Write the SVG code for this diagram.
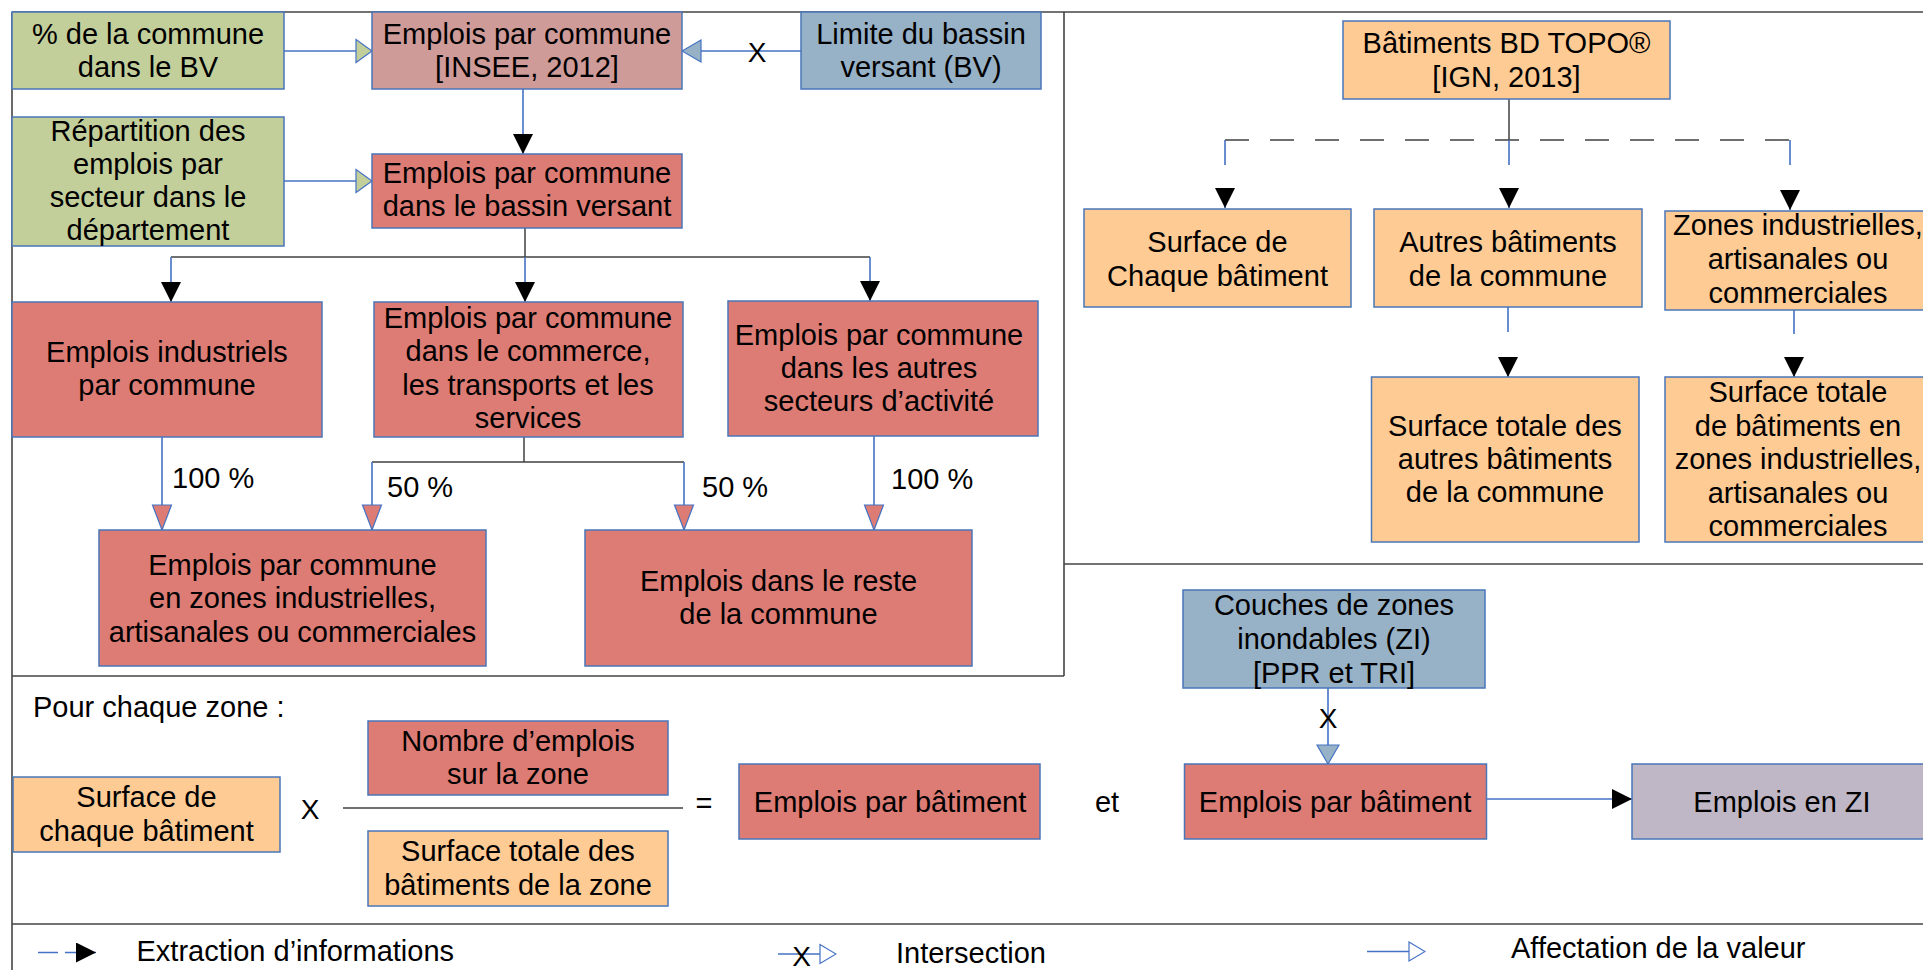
<svg xmlns="http://www.w3.org/2000/svg" width="1923" height="970" viewBox="0 0 1923 970">
<style>
  .t { font-family: "Liberation Sans", Arial, sans-serif; font-size: 29px; fill: #000; text-anchor: middle; }
  .ts { font-family: "Liberation Sans", Arial, sans-serif; font-size: 29px; fill: #000; text-anchor: start; }
  .box { stroke: #4a76b8; stroke-width: 1.5; }
  .green { fill: #c3cf9b; }
  .pink { fill: #cf9b99; }
  .red { fill: #dc7c75; }
  .bgrey { fill: #97b1c6; }
  .orange { fill: #fecb95; }
  .lav { fill: #bfb7c5; }
  .frame { stroke: #454545; stroke-width: 1.6; fill: none; }
  .cb { stroke: #4472c4; stroke-width: 1.6; fill: none; }
  .cd { stroke: #404040; stroke-width: 1.5; fill: none; }
</style>
<defs>
  <marker id="m-black" markerUnits="userSpaceOnUse" markerWidth="20" markerHeight="20" viewBox="0 0 20 20" refX="20" refY="10" orient="auto">
    <path d="M0,0 L20,10 L0,20 z" fill="#000"/>
  </marker>
  <marker id="m-red" markerUnits="userSpaceOnUse" markerWidth="27" markerHeight="22" viewBox="0 0 27 22" refX="26" refY="11" orient="auto">
    <path d="M1,1.5 L26,11 L1,20.5 z" fill="#dc7c75" stroke="#4472c4" stroke-width="1.2"/>
  </marker>
  <marker id="m-green" markerUnits="userSpaceOnUse" markerWidth="18" markerHeight="26" viewBox="0 0 18 26" refX="17" refY="13" orient="auto">
    <path d="M1,1.5 L17,13 L1,24.5 z" fill="#c3cf9b" stroke="#4472c4" stroke-width="1.2"/>
  </marker>
  <marker id="m-bgrey" markerUnits="userSpaceOnUse" markerWidth="21" markerHeight="25" viewBox="0 0 21 25" refX="20" refY="12.5" orient="auto">
    <path d="M1,1.5 L20,12.5 L1,23.5 z" fill="#97b1c6" stroke="#4472c4" stroke-width="1.2"/>
  </marker>
  <marker id="m-white" markerUnits="userSpaceOnUse" markerWidth="18" markerHeight="22" viewBox="0 0 18 22" refX="1" refY="11" orient="auto">
    <path d="M1,1.5 L17,11 L1,20.5 z" fill="#fff" stroke="#4472c4" stroke-width="1.2"/>
  </marker>
</defs>

<g id="frame">
  <line class="frame" x1="12" y1="12" x2="1923" y2="12"/>
  <line class="frame" x1="12" y1="12" x2="12" y2="970"/>
  <line class="frame" x1="1064" y1="12" x2="1064" y2="676"/>
  <line class="frame" x1="12" y1="676" x2="1064" y2="676"/>
  <line class="frame" x1="1064" y1="564" x2="1923" y2="564"/>
  <line class="frame" x1="12" y1="924" x2="1923" y2="924"/>
</g>

<g id="connectors">
  <line class="cb" x1="284" y1="51" x2="372" y2="51" marker-end="url(#m-green)"/>
  <line class="cb" x1="801" y1="51" x2="682" y2="51" marker-end="url(#m-bgrey)"/>
  <text class="t" x="757" y="62" style="font-size:28px">X</text>
  <line class="cb" x1="523" y1="89" x2="523" y2="154" marker-end="url(#m-black)"/>
  <line class="cb" x1="284" y1="181" x2="372" y2="181" marker-end="url(#m-green)"/>
  <line class="cd" x1="525" y1="228" x2="525" y2="257"/>
  <line class="cd" x1="171" y1="257" x2="870" y2="257"/>
  <line class="cb" x1="171" y1="257" x2="171" y2="302" marker-end="url(#m-black)"/>
  <line class="cb" x1="525" y1="257" x2="525" y2="302" marker-end="url(#m-black)"/>
  <line class="cb" x1="870" y1="257" x2="870" y2="301" marker-end="url(#m-black)"/>
  <line class="cb" x1="162" y1="437" x2="162" y2="530" marker-end="url(#m-red)"/>
  <text class="ts" x="172" y="488">100 %</text>
  <line class="cd" x1="524" y1="437" x2="524" y2="462"/>
  <line class="cd" x1="372" y1="462" x2="684" y2="462"/>
  <line class="cb" x1="372" y1="462" x2="372" y2="530" marker-end="url(#m-red)"/>
  <line class="cb" x1="684" y1="462" x2="684" y2="530" marker-end="url(#m-red)"/>
  <text class="ts" x="387" y="497">50 %</text>
  <text class="ts" x="702" y="497">50 %</text>
  <line class="cb" x1="874" y1="436" x2="874" y2="530" marker-end="url(#m-red)"/>
  <text class="ts" x="891" y="489">100 %</text>
  <line class="cd" x1="1509" y1="99" x2="1509" y2="140"/>
  <line class="cd" x1="1225" y1="140" x2="1790" y2="140" stroke-dasharray="24 21"/>
  <path class="cb" d="M1225,140 V208" stroke-dasharray="25 25" marker-end="url(#m-black)"/>
  <path class="cb" d="M1509,140 V208" stroke-dasharray="25 25" marker-end="url(#m-black)"/>
  <path class="cb" d="M1790,140 V210" stroke-dasharray="25 25" marker-end="url(#m-black)"/>
  <path class="cb" d="M1508,307 V377" stroke-dasharray="25 25" marker-end="url(#m-black)"/>
  <path class="cb" d="M1794,310 V377" stroke-dasharray="24 24" marker-end="url(#m-black)"/>
  <line class="cb" x1="1328" y1="688" x2="1328" y2="764" marker-end="url(#m-bgrey)"/>
  <text class="t" x="1328" y="728" style="font-size:28px">X</text>
  <line class="cb" x1="1486" y1="799" x2="1632" y2="799" stroke-width="2.5" marker-end="url(#m-black)"/>
  <line class="cd" x1="343" y1="808" x2="683" y2="808"/>
</g>

<g id="n1"><rect class="box green" x="12" y="12" width="272" height="77"/><text class="t" x="148" y="44">% de la commune</text><text class="t" x="148" y="77">dans le BV</text></g>
<g id="n2"><rect class="box pink" x="372" y="12" width="310" height="77"/><text class="t" x="527" y="44">Emplois par commune</text><text class="t" x="527" y="77">[INSEE, 2012]</text></g>
<g id="n3"><rect class="box bgrey" x="801" y="12" width="240" height="77"/><text class="t" x="921" y="44">Limite du bassin</text><text class="t" x="921" y="77">versant (BV)</text></g>
<g id="n4"><rect class="box green" x="12" y="117" width="272" height="129"/><text class="t" x="148" y="140.5">Répartition des</text><text class="t" x="148" y="173.8">emplois par</text><text class="t" x="148" y="207.1">secteur dans le</text><text class="t" x="148" y="240.4">département</text></g>
<g id="n5"><rect class="box red" x="372" y="154" width="310" height="74"/><text class="t" x="527" y="183">Emplois par commune</text><text class="t" x="527" y="216">dans le bassin versant</text></g>
<g id="n6"><rect class="box red" x="12" y="302" width="310" height="135"/><text class="t" x="167" y="362">Emplois industriels</text><text class="t" x="167" y="395">par commune</text></g>
<g id="n7"><rect class="box red" x="374" y="302" width="309" height="135"/><text class="t" x="528" y="328">Emplois par commune</text><text class="t" x="528" y="361.3">dans le commerce,</text><text class="t" x="528" y="394.6">les transports et les</text><text class="t" x="528" y="428">services</text></g>
<g id="n8"><rect class="box red" x="728" y="301" width="310" height="135"/><text class="t" x="879" y="345">Emplois par commune</text><text class="t" x="879" y="378">dans les autres</text><text class="t" x="879" y="411">secteurs d’activité</text></g>
<g id="n9"><rect class="box red" x="99" y="530" width="387" height="136"/><text class="t" x="292.5" y="575">Emplois par commune</text><text class="t" x="292.5" y="608">en zones industrielles,</text><text class="t" x="292.5" y="641.5">artisanales ou commerciales</text></g>
<g id="n10"><rect class="box red" x="585" y="530" width="387" height="136"/><text class="t" x="778.5" y="590.5">Emplois dans le reste</text><text class="t" x="778.5" y="624">de la commune</text></g>
<g id="n11"><rect class="box orange" x="1343" y="21" width="327" height="78"/><text class="t" x="1506.5" y="53">Bâtiments BD TOPO®</text><text class="t" x="1506.5" y="86.5">[IGN, 2013]</text></g>
<g id="n12"><rect class="box orange" x="1084" y="209" width="267" height="98"/><text class="t" x="1217.5" y="252">Surface de</text><text class="t" x="1217.5" y="286">Chaque bâtiment</text></g>
<g id="n13"><rect class="box orange" x="1374" y="209" width="268" height="98"/><text class="t" x="1508" y="252">Autres bâtiments</text><text class="t" x="1508" y="286">de la commune</text></g>
<g id="n14"><rect class="box orange" x="1665" y="211" width="270" height="99"/><text class="t" x="1798" y="235">Zones industrielles,</text><text class="t" x="1798" y="269">artisanales ou</text><text class="t" x="1798" y="303">commerciales</text></g>
<g id="n15"><rect class="box orange" x="1371.5" y="377" width="267.5" height="165"/><text class="t" x="1505" y="435.7">Surface totale des</text><text class="t" x="1505" y="469">autres bâtiments</text><text class="t" x="1505" y="502.3">de la commune</text></g>
<g id="n16"><rect class="box orange" x="1665" y="377" width="270" height="165"/><text class="t" x="1798" y="402">Surface totale</text><text class="t" x="1798" y="435.5">de bâtiments en</text><text class="t" x="1798" y="469">zones industrielles,</text><text class="t" x="1798" y="502.5">artisanales ou</text><text class="t" x="1798" y="536">commerciales</text></g>
<g id="n17"><rect class="box bgrey" x="1183" y="590" width="302" height="98"/><text class="t" x="1334" y="615">Couches de zones</text><text class="t" x="1334" y="649">inondables (ZI)</text><text class="t" x="1334" y="683">[PPR et TRI]</text></g>
<g id="n18"><rect class="box red" x="1184.5" y="764" width="302" height="75"/><text class="t" x="1335" y="811.7">Emplois par bâtiment</text></g>
<g id="n19"><rect class="box lav" x="1632" y="764" width="300" height="75"/><text class="t" x="1782" y="811.7">Emplois en ZI</text></g>

<g id="formula">
  <text class="ts" x="33" y="717">Pour chaque zone :</text>
  <text class="t" x="310" y="819" style="font-size:28px">X</text>
  <text class="t" x="704" y="813">=</text>
  <text class="t" x="1107" y="812">et</text>
</g>
<g id="n20"><rect class="box orange" x="13" y="777" width="267" height="75"/><text class="t" x="146.5" y="806.7">Surface de</text><text class="t" x="146.5" y="840.7">chaque bâtiment</text></g>
<g id="n21"><rect class="box red" x="368" y="721" width="300" height="74"/><text class="t" x="518" y="751">Nombre d’emplois</text><text class="t" x="518" y="784.3">sur la zone</text></g>
<g id="n22"><rect class="box orange" x="368" y="831" width="300" height="75"/><text class="t" x="518" y="861">Surface totale des</text><text class="t" x="518" y="895">bâtiments de la zone</text></g>
<g id="n23"><rect class="box red" x="739" y="764" width="301" height="75"/><text class="t" x="890" y="811.7">Emplois par bâtiment</text></g>

<g id="legend">
  <line class="cb" x1="38" y1="952.5" x2="96" y2="952.5" stroke-dasharray="20 7" marker-end="url(#m-black)"/>
  <text class="ts" x="136.5" y="961">Extraction d’informations</text>
  <line class="cb" x1="778" y1="954" x2="820" y2="954" marker-end="url(#m-white)"/>
  <text class="t" x="801.5" y="966" style="font-size:28px">X</text>
  <text class="ts" x="896" y="963">Intersection</text>
  <line class="cb" x1="1367" y1="951.5" x2="1409" y2="951.5" marker-end="url(#m-white)"/>
  <text class="ts" x="1511" y="958">Affectation de la valeur</text>
</g>
</svg>
